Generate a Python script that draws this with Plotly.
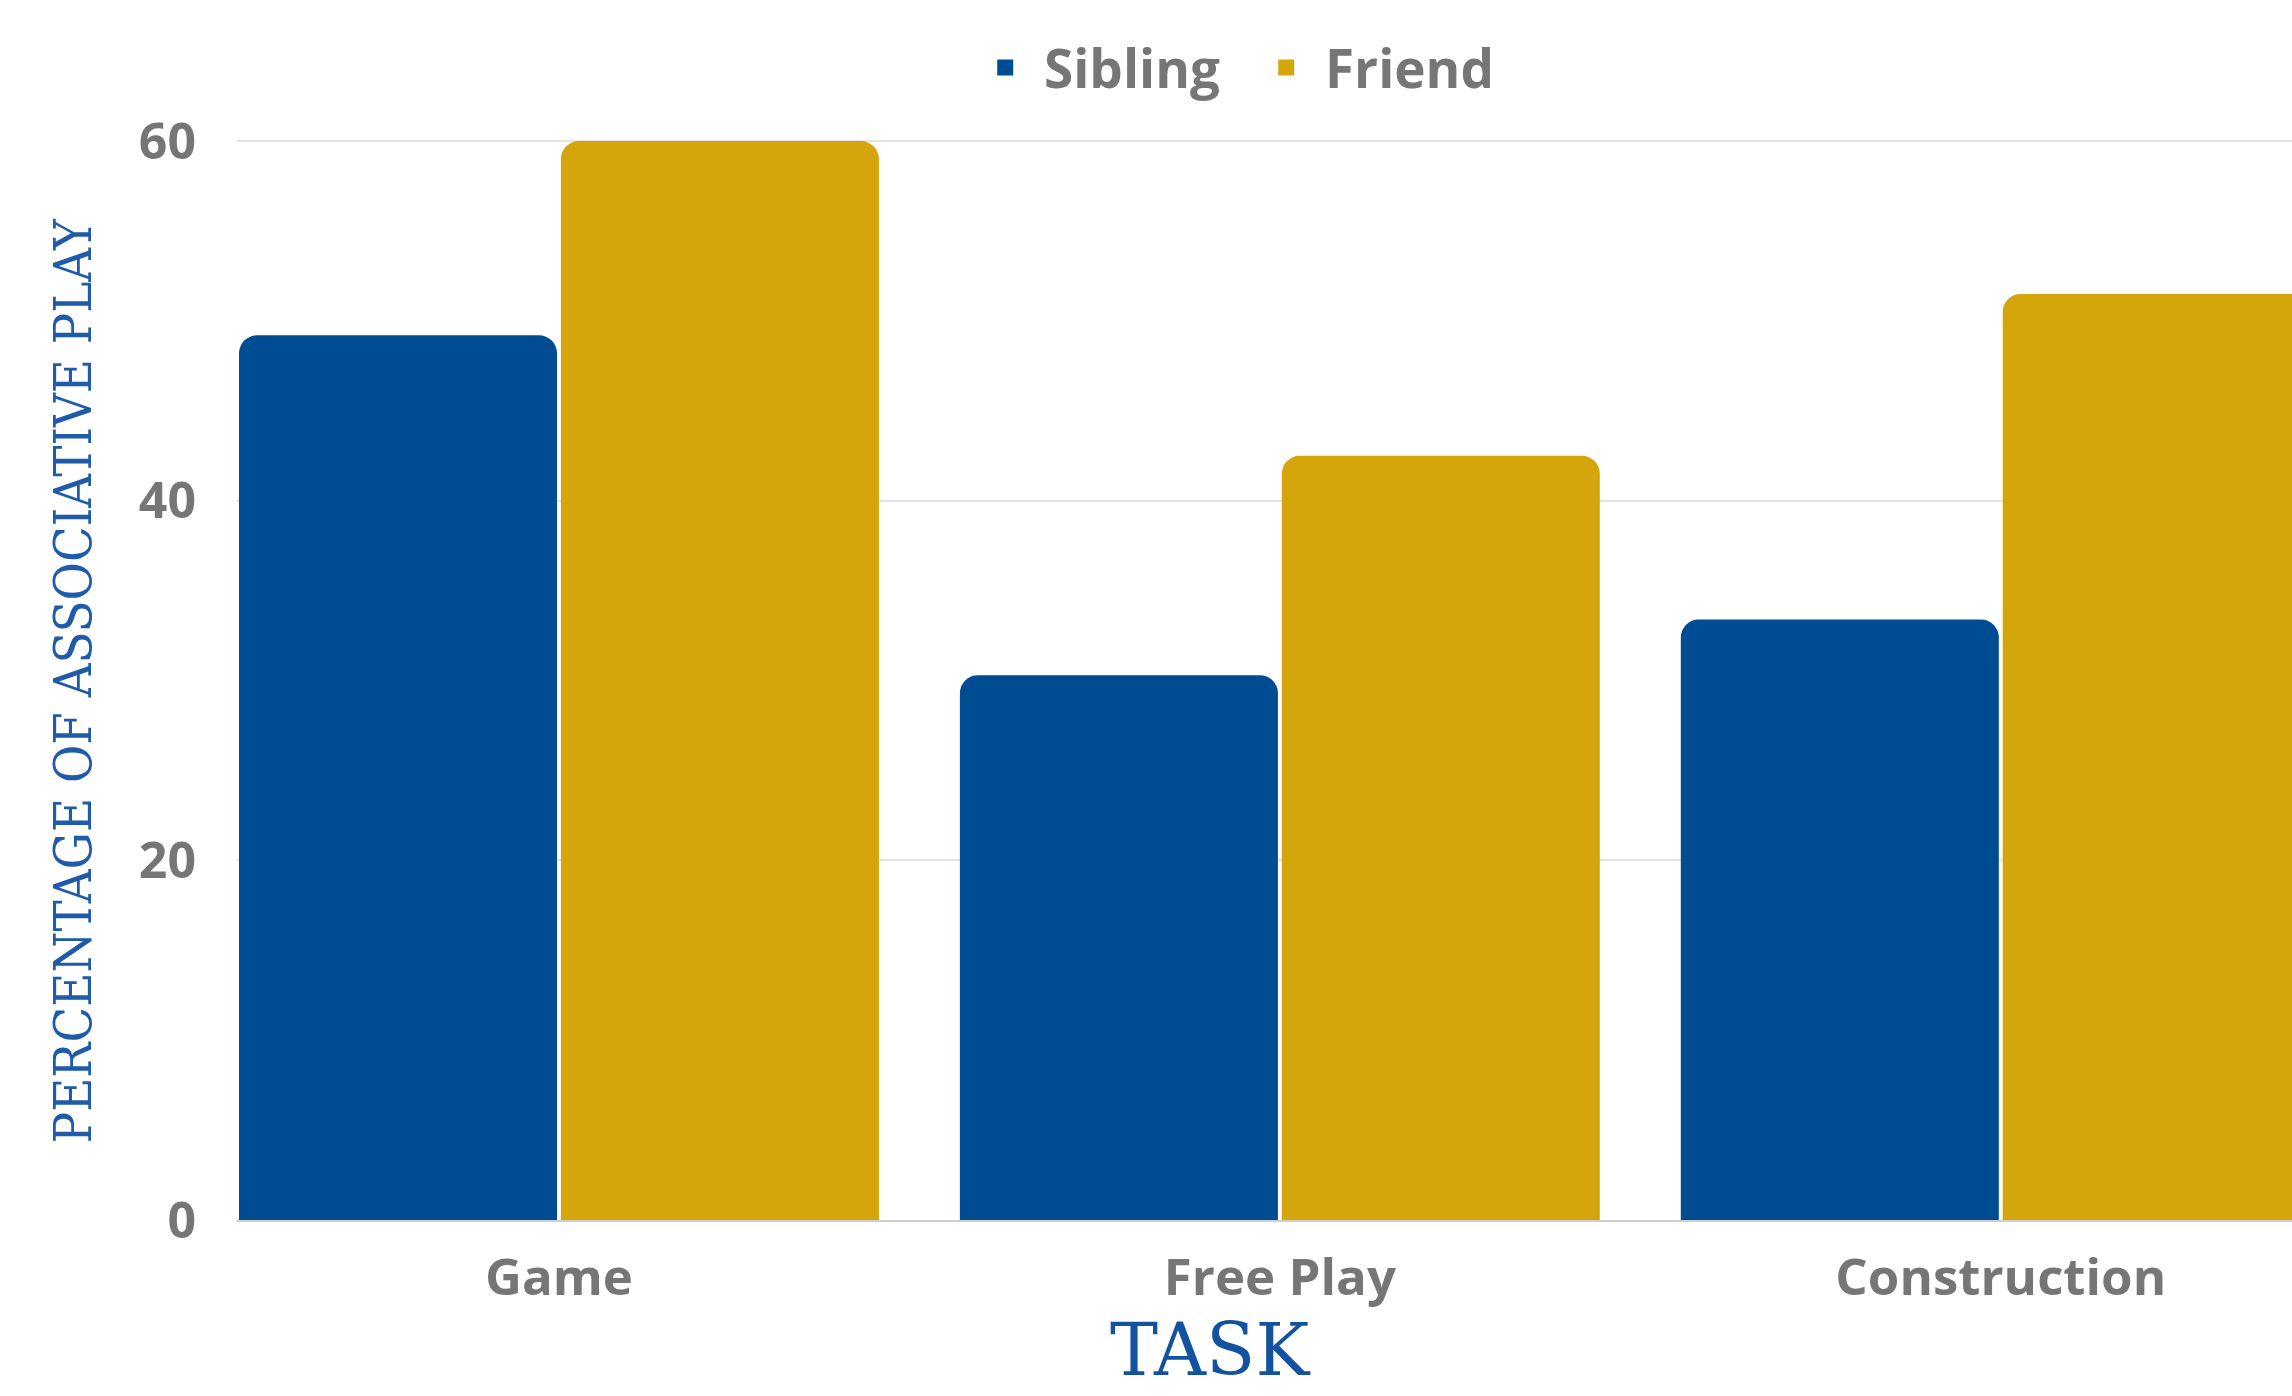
import plotly.graph_objects as go

categories = ["Game", "Free Play", "Construction"]
sibling = [49.2, 30.3, 33.4]
friend = [60.0, 42.5, 51.5]
y_ticks = [0, 20, 40, 60]
series_names = ["Sibling", "Friend"]

BLUE = "#004C93"
GOLD = "#D5A60B"
GRAY = "#767676"
TITLE_BLUE = "#12529E"

W, H = 2292, 1396
L, R, T, B = 237, 0, 140, 176

fig = go.Figure()
fig.add_trace(go.Bar(x=categories, y=sibling, name=series_names[0],
                     marker=dict(color=BLUE, cornerradius=18, line=dict(width=0)),
                     showlegend=False))
fig.add_trace(go.Bar(x=categories, y=friend, name=series_names[1],
                     marker=dict(color=GOLD, cornerradius=18, line=dict(width=0)),
                     showlegend=False))
# legend proxies with larger square swatches
for nm, col in zip(series_names, [BLUE, GOLD]):
    fig.add_trace(go.Scatter(x=[None], y=[None], mode="markers", name="\u00a0" + nm,
                             marker=dict(symbol="square", size=21, color=col)))

fig.update_layout(
    width=W, height=H,
    margin=dict(l=L, r=R, t=T, b=B, pad=0),
    paper_bgcolor="white", plot_bgcolor="white",
    barmode="group", bargap=0.107, bargroupgap=0.012,
    font=dict(family="Open Sans", color=GRAY),
    legend=dict(orientation="h", x=0.4984, xanchor="center", y=1.067, yanchor="middle",
                font=dict(family="Open Sans", size=53, color=GRAY, weight="bold"),
                itemwidth=40, entrywidth=226, bgcolor="rgba(0,0,0,0)"),
    showlegend=True,
)
fig.update_xaxes(
    range=[-0.4466, 2.404],
    showgrid=False, showline=True, linecolor="#cfcfcf", linewidth=2,
    ticks="", tickfont=dict(family="Open Sans", size=51, color=GRAY, weight="bold"),
    ticklabelstandoff=12, zeroline=False,
)
fig.update_yaxes(
    range=[0, 60.06], tickvals=y_ticks, ticktext=[str(v) for v in y_ticks],
    showgrid=True, gridcolor="#e3e3e3", gridwidth=2, zeroline=False, showline=False,
    ticks="", tickfont=dict(family="Open Sans", size=50, color=GRAY, weight="bold"),
    ticklabelstandoff=40,
)
fig.add_annotation(text="TASK", xref="paper", yref="paper", x=0.4734, y=-0.161,
                   xanchor="center", yanchor="bottom", showarrow=False,
                   font=dict(family="DejaVu Serif", size=72, color=TITLE_BLUE))
fig.add_annotation(text="PERCENTAGE OF ASSOCIATIVE PLAY", xref="paper", yref="paper",
                   x=-0.0797, y=0.499, xanchor="center", yanchor="middle",
                   textangle=-90, showarrow=False,
                   font=dict(family="DejaVu Serif Condensed, DejaVu Serif", size=52,
                             color="#1F5BA8"))

fig.write_html("out.html")
